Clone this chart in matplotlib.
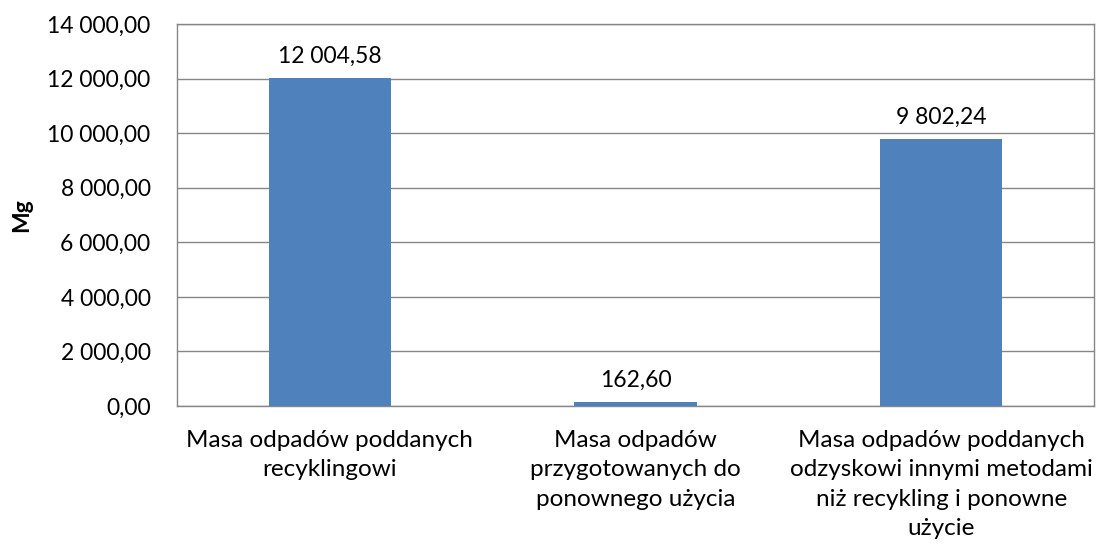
import numpy as np
import matplotlib.pyplot as plt

# data
categories = ["Masa odpadów poddanych\nrecyklingowi",
              "Masa odpadów\nprzygotowanych do\nponownego użycia",
              "Masa odpadów poddanych\nodzyskowi innymi metodami\nniż recykling i ponowne\nużycie"]
values = [12004.58, 162.60, 9802.24]
y_ticks = [0, 2000, 4000, 6000, 8000, 10000, 12000, 14000]

def pl_fmt(v):
    s = f"{v:,.2f}"
    return s.replace(",", " ").replace(".", ",")

plt.rcParams['font.family'] = ['Lato', 'DejaVu Sans']
fs = 16.5

fig = plt.figure(figsize=(11.12, 5.49), dpi=100)
ax = fig.add_axes([177/1112, 1-406/549, (1094-177)/1112, (406-24)/549])

x = np.arange(len(values))
bars = ax.bar(x, values, width=0.4, color="#4F81BD", zorder=3)

ax.set_ylim(0, 14000)
ax.set_xlim(-0.5, 2.5)
ax.set_yticks(y_ticks)
ax.set_yticklabels([pl_fmt(v) for v in y_ticks], fontsize=fs)
ax.set_xticks(x)
ax.set_xticklabels(categories, fontsize=17.5, linespacing=1.5)
ax.tick_params(axis="y", length=0, pad=19)
ax.tick_params(axis="x", length=0, pad=17)
ax.grid(axis="y", color="#868686", linewidth=1, zorder=0)
for sp in ax.spines.values():
    sp.set_color("#868686")
    sp.set_linewidth(1)

for b, v in zip(bars, values):
    ax.annotate(pl_fmt(v), (b.get_x() + b.get_width()/2, v), xytext=(0, 8),
                textcoords="offset points", ha="center", va="bottom", fontsize=fs)

ax.set_ylabel("Mg", fontsize=fs, fontweight="bold")
ax.yaxis.set_label_coords(-0.158, 0.5)

fig.savefig("out.png", dpi=100)
